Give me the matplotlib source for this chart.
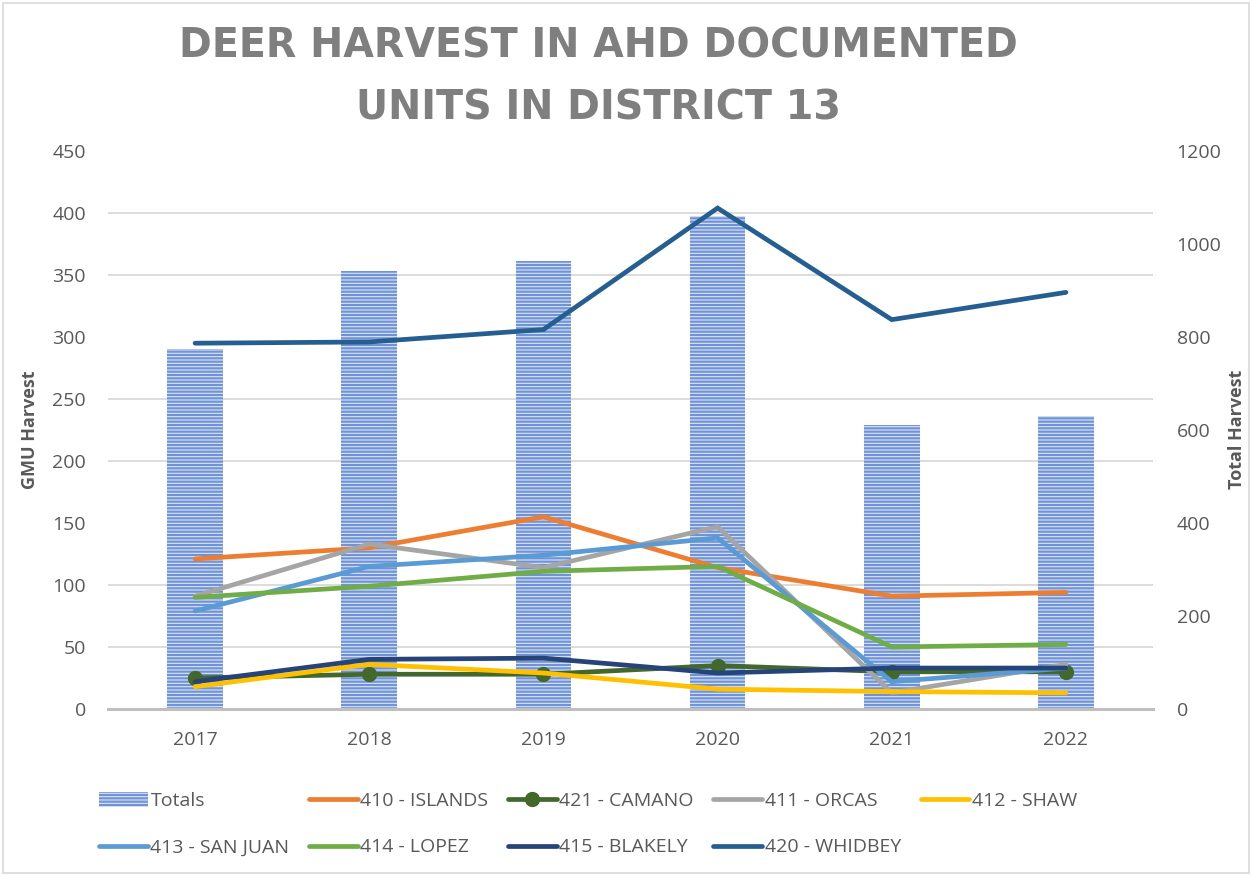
import numpy as np
import matplotlib
matplotlib.use('Agg')
import matplotlib.pyplot as plt
from matplotlib.ticker import MultipleLocator
from matplotlib.patches import Rectangle

# Data
years = ['2017', '2018', '2019', '2020', '2021', '2022']
totals = [774, 942, 963, 1060, 611, 630]
islands = [121, 130, 155, 114, 91, 94]
camano = [25, 28, 28, 35, 30, 30]
orcas = [91, 133, 114, 147, 13, 36]
shaw = [18, 36, 29, 16, 14, 13]
san_juan = [79, 115, 124, 138, 22, 33]
lopez = [90, 99, 111, 115, 50, 52]
blakely = [22, 40, 41, 29, 33, 33]
whidbey = [295, 296, 306, 404, 314, 336]

series = [
    ('410 - ISLANDS', islands, '#ED7D31', False),
    ('421 - CAMANO', camano, '#43682B', True),
    ('411 - ORCAS', orcas, '#A5A5A5', False),
    ('412 - SHAW', shaw, '#FFC000', False),
    ('413 - SAN JUAN', san_juan, '#5B9BD5', False),
    ('414 - LOPEZ', lopez, '#70AD47', False),
    ('415 - BLAKELY', blakely, '#264478', False),
    ('420 - WHIDBEY', whidbey, '#255E91', False),
]

plt.rcParams['font.family'] = ['Open Sans', 'DejaVu Sans']
plt.rcParams['hatch.linewidth'] = 1.6
plt.rcParams['hatch.color'] = '#6F93D6'
txt = '#595959'

fig = plt.figure(figsize=(12.53, 8.77), dpi=100)
fig.patches.append(Rectangle((0.002, 0.004), 0.995, 0.993, transform=fig.transFigure,
                             fill=False, edgecolor='#d9d9d9', linewidth=1.2))

# bars on the bottom axes (right scale), lines on the top axes (left scale)
axb = fig.add_axes([0.0862, 0.1916, 0.8340, 0.6362])
ax = axb.twinx()
axb.yaxis.tick_right()
ax.yaxis.tick_left()

x = np.arange(len(years))
bars = axb.bar(x, totals, width=0.32, color='#DCE5F6', edgecolor='#6F93D6',
               linewidth=0, hatch='-----', label='Totals')
axb.set_ylim(0, 1200)
axb.set_yticks(np.arange(0, 1201, 200))
axb.yaxis.set_minor_locator(MultipleLocator(1200 / 9))
axb.grid(which='minor', axis='y', color='#d9d9d9', linewidth=1.3)
axb.set_axisbelow(True)
axb.tick_params(which='both', length=0)
axb.tick_params(axis='y', pad=17, labelsize=14, labelcolor=txt)
axb.tick_params(axis='x', pad=16, labelsize=14, labelcolor=txt)
axb.set_xticks(x)
axb.set_xticklabels(years)
axb.set_xlim(-0.5, len(years) - 0.5)
for s in ['top', 'left', 'right']:
    axb.spines[s].set_visible(False)
axb.spines['bottom'].set_color('#bfbfbf')
axb.spines['bottom'].set_linewidth(2.2)

handles = {}
for name, vals, col, mk in series:
    ln, = ax.plot(x, vals, color=col, linewidth=3.4, solid_capstyle='round',
                  solid_joinstyle='miter', marker='o' if mk else None,
                  markersize=10, label=name)
    handles[name] = ln
ax.set_ylim(0, 450)
ax.set_yticks(np.arange(0, 451, 50))
ax.tick_params(length=0)
ax.tick_params(axis='y', pad=16, labelsize=14, labelcolor=txt)
for s in ax.spines.values():
    s.set_visible(False)

fig.text(0.024, 0.51, 'GMU Harvest', rotation=90, ha='center', va='center',
         fontsize=13, fontweight='bold', color=txt)
fig.text(0.987, 0.51, 'Total Harvest', rotation=90, ha='center', va='center',
         fontsize=13, fontweight='bold', color=txt)

fig.text(0.478, 0.912, 'DEER HARVEST IN AHD DOCUMENTED\nUNITS IN DISTRICT 13',
         ha='center', va='center', fontsize=28.5, fontweight='bold', color='#7f7f7f',
         linespacing=1.7, family='DejaVu Sans')

order = ['Totals', '413 - SAN JUAN', '410 - ISLANDS', '414 - LOPEZ',
         '421 - CAMANO', '415 - BLAKELY', '411 - ORCAS', '420 - WHIDBEY', '412 - SHAW']
handles['Totals'] = bars
fig.legend([handles[k] for k in order], order, loc='center left',
           bbox_to_anchor=(0.065, 0.060), ncol=5, frameon=False, fontsize=14,
           labelcolor=txt, handlelength=2.5, handletextpad=0.15,
           columnspacing=1.0, labelspacing=1.45, handleheight=0.75)

fig.savefig('out.png', dpi=100)
